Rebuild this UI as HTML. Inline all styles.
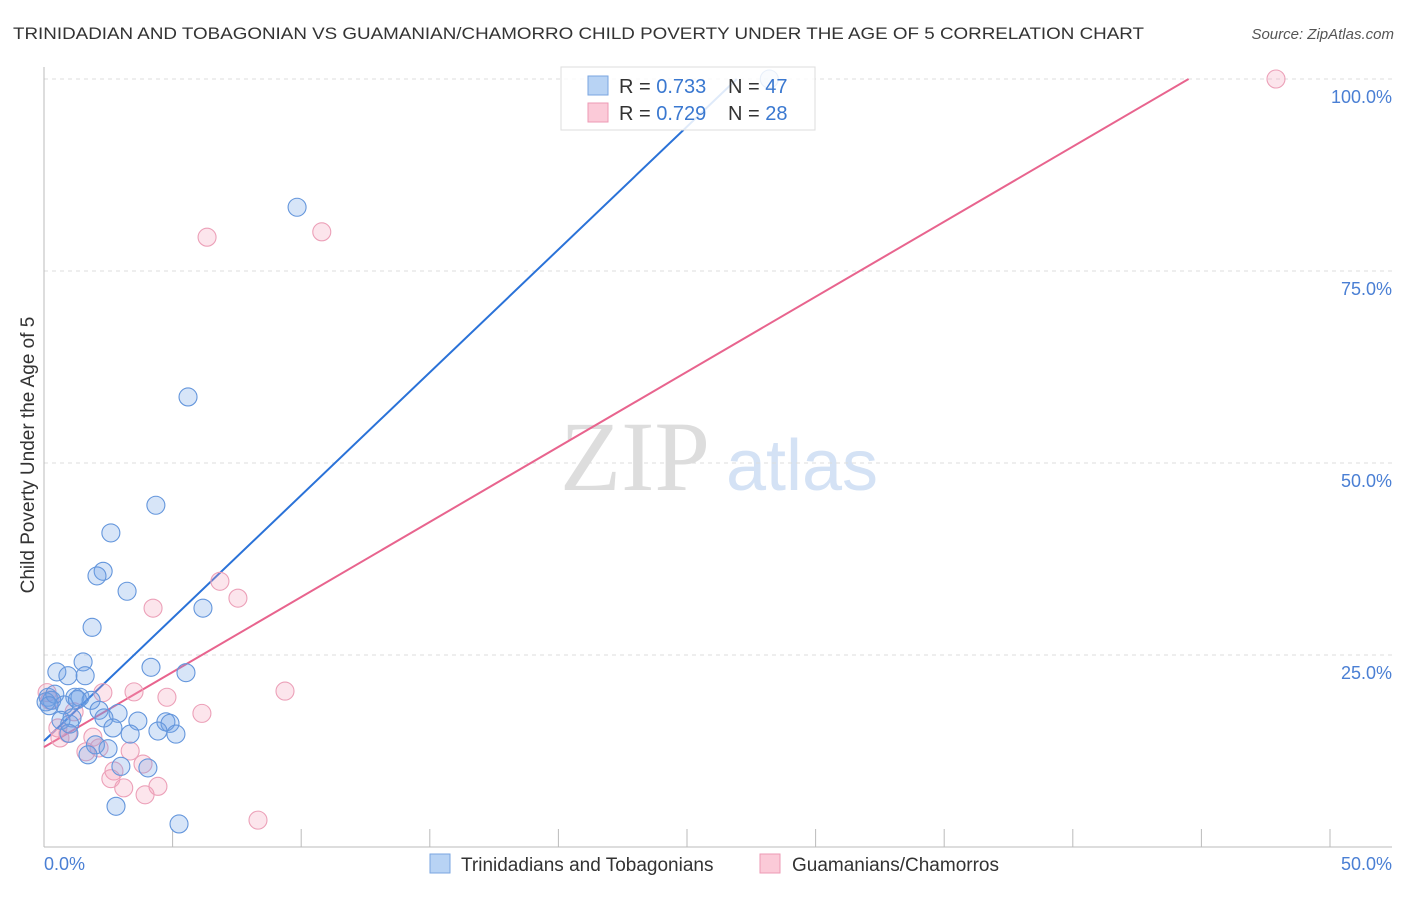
<!DOCTYPE html>
<html><head><meta charset="utf-8"><style>
body{margin:0;background:#fff;font-family:"Liberation Sans",sans-serif;}
</style></head><body>
<svg id="chart" width="1406" height="892" xmlns="http://www.w3.org/2000/svg" font-family="Liberation Sans, sans-serif">
<text x="13" y="39" font-size="17" fill="#333" textLength="1131" lengthAdjust="spacingAndGlyphs">TRINIDADIAN AND TOBAGONIAN VS GUAMANIAN/CHAMORRO CHILD POVERTY UNDER THE AGE OF 5 CORRELATION CHART</text>
<text x="1394" y="39" font-size="15" fill="#555" text-anchor="end" font-style="italic">Source: ZipAtlas.com</text>
<g>
<text x="635" y="490" font-size="100" fill="#ddd" text-anchor="middle" style="font-family:'Liberation Serif',serif">ZIP</text>
<text x="802" y="490" font-size="72" fill="#d4e2f5" text-anchor="middle">atlas</text>
</g>
<g id="grid"></g>
<g id="axes"></g>
<g id="lines"></g>
<g id="points"></g>
<text transform="translate(34,455) rotate(-90)" font-size="19" fill="#333" text-anchor="middle">Child Poverty Under the Age of 5</text>
<g>
<rect x="561" y="67" width="254" height="63" fill="rgba(255,255,255,0.85)" stroke="#ddd"/>
<rect x="588" y="76" width="20" height="19" fill="#b8d3f4" stroke="#7aa6e0"/>
<rect x="588" y="103" width="20" height="19" fill="#fbcad8" stroke="#ee9ab4"/>
<text x="619" y="93" font-size="20" fill="#333">R = <tspan fill="#3a78d0">0.733</tspan></text>
<text x="728" y="93" font-size="20" fill="#333">N = <tspan fill="#3a78d0">47</tspan></text>
<text x="619" y="120" font-size="20" fill="#333">R = <tspan fill="#3a78d0">0.729</tspan></text>
<text x="728" y="120" font-size="20" fill="#333">N = <tspan fill="#3a78d0">28</tspan></text>
</g>
<g>
<rect x="430" y="854" width="20" height="19" fill="#b8d3f4" stroke="#7aa6e0"/>
<text x="461" y="871" font-size="19" fill="#333">Trinidadians and Tobagonians</text>
<rect x="760" y="854" width="20" height="19" fill="#fbcad8" stroke="#ee9ab4"/>
<text x="792" y="871" font-size="19" fill="#333">Guamanians/Chamorros</text>
</g>
</svg>
<script>
const blueX=[28.2,9.84,5.6,4.35,2.6,2.3,2.06,3.23,6.18,1.87,1.52,0.5,4.16,0.93,1.6,5.52,0.16,0.3,1.2,1.4,1.83,0.78,2.14,2.88,2.33,1.09,0.66,3.65,4.74,4.9,2.68,4.43,5.13,3.35,0.97,2.0,2.49,1.71,2.99,4.04,2.8,5.25,0.08,0.42,1.3,0.2,1.0];
const blueY=[100,83.3,58.6,44.5,40.9,35.9,35.3,33.3,31.1,28.6,24.1,22.8,23.4,22.3,22.3,22.7,19.5,19.1,19.5,19.5,19.1,18.5,17.8,17.4,16.8,16.8,16.5,16.4,16.3,16.1,15.5,15.1,14.7,14.7,14.8,13.3,12.8,12.0,10.5,10.3,5.3,3.0,18.9,19.9,19.2,18.4,16.0];
const pinkX=[47.9,10.8,6.34,6.84,7.54,4.24,9.37,3.5,4.78,2.29,0.12,6.14,0.54,0.93,1.9,1.63,2.14,3.35,3.85,2.72,2.6,3.1,4.43,3.93,8.32,0.23,1.17,0.62];
const pinkY=[100,80.1,79.4,34.6,32.4,31.1,20.3,20.2,19.5,20.1,20.1,17.4,15.5,14.8,14.3,12.4,12.9,12.5,10.8,9.9,8.9,7.7,7.9,6.8,3.5,19.1,17.6,14.2];
const blueLine=[13.8,3.2];
const pinkLine=[13.0,1.955];
const yTicks=[25,50,75,100];
const yTickLabels=["25.0%","50.0%","75.0%","100.0%"];
const xTicks=[0,5,10,15,20,25,30,35,40,45,50];
const xTickLabels=["0.0%","50.0%"];
const NS="http://www.w3.org/2000/svg";
const sx=v=>44+v*25.72, sy=v=>847-v*7.68;
function mk(tag,attrs,parent){const e=document.createElementNS(NS,tag);for(const k in attrs)e.setAttribute(k,attrs[k]);document.getElementById(parent).appendChild(e);return e;}
yTicks.forEach((t,i)=>{
 const g=mk('line',{x1:44,x2:1392,y1:sy(t),y2:sy(t),stroke:'#ddd','stroke-dasharray':'4,4'},'grid');
 
 
 const l=mk('text',{x:1392,y:sy(t)+24,'font-size':18,fill:'#4a7fd4','text-anchor':'end'},'axes');
 l.textContent=yTickLabels[i];
 
 
});
const ax=mk('line',{x1:44,x2:44,y1:67,y2:847,stroke:'#bbb'},'axes');


const bx=mk('line',{x1:44,x2:1392,y1:847,y2:847,stroke:'#bbb'},'axes');


xTicks.forEach(t=>{
 const k=mk('line',{x1:sx(t),x2:sx(t),y1:829,y2:847,stroke:'#bbb'},'axes');
 
 
});
const xl0=mk('text',{x:44,y:870,'font-size':18,fill:'#4a7fd4'},'axes');xl0.textContent=xTickLabels[0];


const xl1=mk('text',{x:1392,y:870,'font-size':18,fill:'#4a7fd4','text-anchor':'end'},'axes');xl1.textContent=xTickLabels[1];


function drawPts(X,Y,fill,stroke,name){X.forEach((x,i)=>{
 const c=mk('circle',{cx:sx(x),cy:sy(Y[i]),r:9,fill:fill,stroke:stroke,'stroke-width':1.1},'points');
 
 
});}
drawPts(pinkX,pinkY,'rgba(245,160,185,0.28)','#eca0b8','pink-point');
drawPts(blueX,blueY,'rgba(110,160,230,0.28)','#6496dc','blue-point');
function drawLine(p,color,name){
 const x2=Math.min(50,(100-p[0])/p[1]);
 const l=mk('line',{x1:sx(0),y1:sy(p[0]),x2:sx(x2),y2:sy(p[0]+p[1]*x2),stroke:color,'stroke-width':2},'lines');
 
 
}
drawLine(blueLine,'#2a72d8','blue-trend-line');
drawLine(pinkLine,'#e8648e','pink-trend-line');
</script>
</body></html>
